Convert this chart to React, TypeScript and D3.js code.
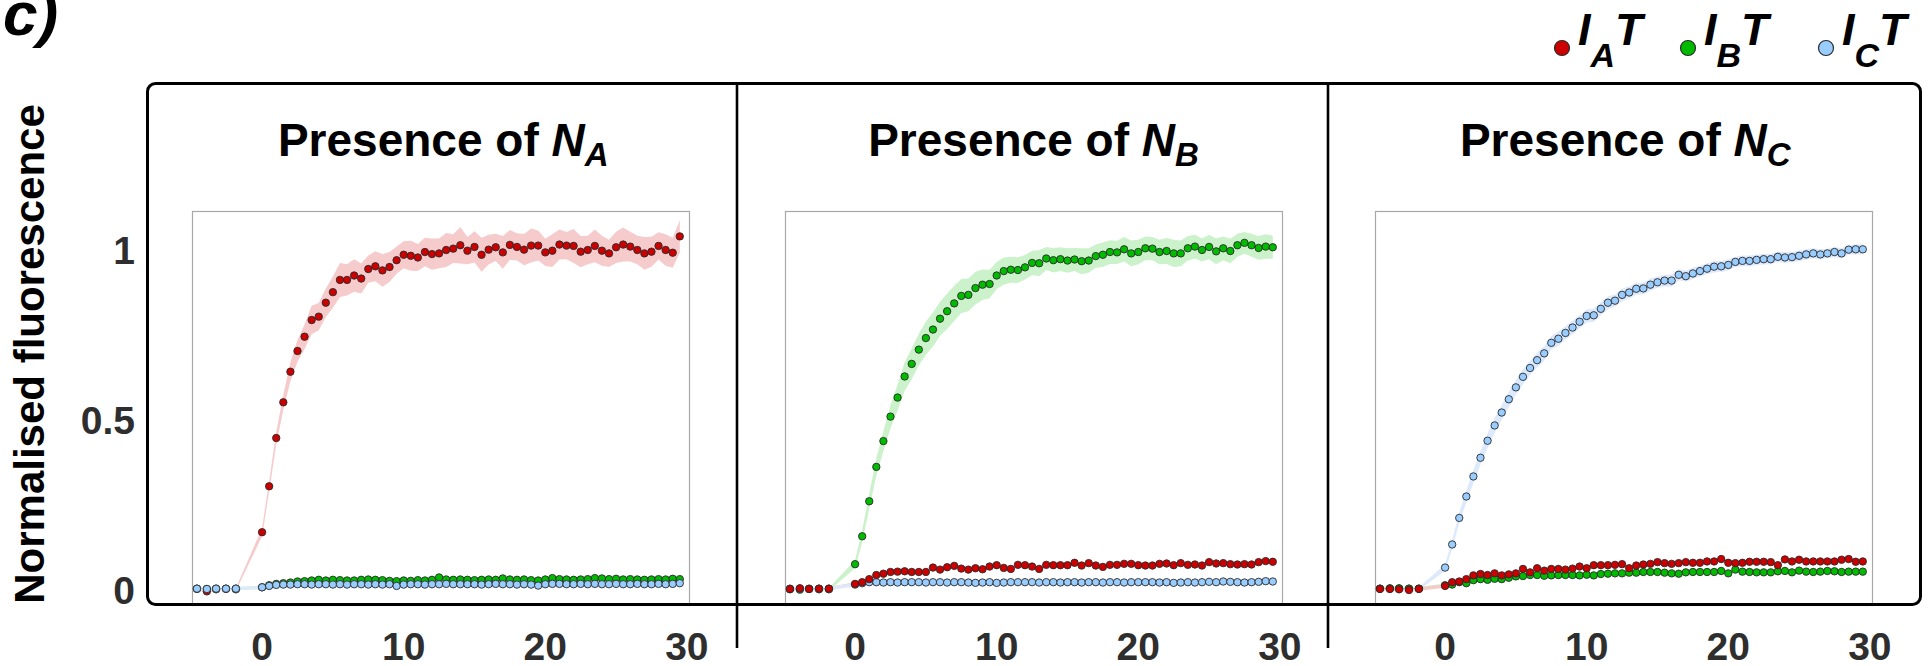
import React from "react";
import * as d3 from "d3";

// ---------- DATA ----------
const PRE_T = [-4.6, -3.9, -3.25, -2.55, -1.85];
const POST_T = d3.range(0, 30, 0.5); // sampling times 0 … 29.5
const TIMES = [...PRE_T, ...POST_T];

const X_TICKS = [0, 10, 20, 30];
const Y_TICKS = [0, 0.5, 1];
const Y_TICK_LABELS = ["0", "0.5", "1"];
const PANEL_SUBS = ["A", "B", "C"];
const LEGEND_SUBS = ["A", "B", "C"];

// Panel 1: presence of N_A
const NA_IA = [0.003, -0.004, 0.002, 0.003, 0.002,
  0.170, 0.305, 0.447, 0.552, 0.642, 0.703, 0.745, 0.794, 0.804, 0.845,
  0.876, 0.912, 0.912, 0.925, 0.916, 0.944, 0.952, 0.940, 0.950, 0.970,
  0.986, 0.983, 0.978, 0.994, 0.988, 0.990, 1.000, 1.004, 1.014, 0.998,
  1.009, 0.986, 1.001, 1.008, 0.993, 1.015, 1.009, 1.001, 1.013, 1.013,
  0.993, 0.998, 1.016, 1.013, 1.012, 0.995, 1.000, 1.012, 0.998, 0.990,
  1.008, 1.016, 1.010, 1.000, 0.990, 0.995, 1.012, 1.000, 0.992, 1.040];
const SD_NA_IA = [0.004, 0.004, 0.004, 0.004, 0.004,
  0.012, 0.015, 0.018, 0.022, 0.028, 0.032, 0.036, 0.042, 0.040, 0.042,
  0.046, 0.050, 0.046, 0.048, 0.044, 0.040, 0.044, 0.048, 0.044, 0.040,
  0.040, 0.044, 0.040, 0.042, 0.046, 0.044, 0.050, 0.042, 0.054, 0.040,
  0.046, 0.050, 0.044, 0.040, 0.048, 0.044, 0.040, 0.046, 0.050, 0.044,
  0.040, 0.048, 0.044, 0.040, 0.050, 0.046, 0.042, 0.048, 0.044, 0.040,
  0.046, 0.050, 0.044, 0.042, 0.048, 0.044, 0.040, 0.046, 0.044, 0.048];
const NA_IB = [0.004, 0.003, 0.004, 0.004, 0.004,
  0.008, 0.014, 0.018, 0.020, 0.022, 0.025, 0.026, 0.028, 0.030, 0.028,
  0.030, 0.029, 0.028, 0.028, 0.030, 0.031, 0.030, 0.029, 0.027, 0.026,
  0.028, 0.027, 0.029, 0.028, 0.030, 0.037, 0.031, 0.030, 0.031, 0.030,
  0.029, 0.030, 0.031, 0.030, 0.034, 0.031, 0.030, 0.031, 0.029, 0.028,
  0.031, 0.035, 0.032, 0.031, 0.030, 0.031, 0.032, 0.035, 0.034, 0.032,
  0.033, 0.031, 0.032, 0.031, 0.030, 0.031, 0.032, 0.031, 0.033, 0.032];
const NA_IC = [0.004, 0.003, 0.004, 0.004, 0.004,
  0.008, 0.012, 0.015, 0.016, 0.016, 0.017, 0.017, 0.016, 0.017, 0.017,
  0.016, 0.017, 0.016, 0.017, 0.017, 0.016, 0.017, 0.016, 0.017, 0.012,
  0.016, 0.017, 0.017, 0.016, 0.017, 0.017, 0.018, 0.017, 0.017, 0.017,
  0.017, 0.016, 0.017, 0.018, 0.017, 0.017, 0.016, 0.017, 0.016, 0.013,
  0.017, 0.018, 0.018, 0.017, 0.017, 0.018, 0.017, 0.018, 0.017, 0.017,
  0.018, 0.017, 0.017, 0.018, 0.017, 0.017, 0.018, 0.017, 0.018, 0.020];

// Panel 2: presence of N_B
const NB_IA = [0.003, 0.005, 0.003, 0.004, 0.004,
  0.018, 0.023, 0.032, 0.044, 0.048, 0.053, 0.054, 0.055, 0.053, 0.053,
  0.053, 0.066, 0.060, 0.067, 0.071, 0.063, 0.060, 0.064, 0.061, 0.069,
  0.073, 0.065, 0.062, 0.074, 0.073, 0.069, 0.062, 0.074, 0.073, 0.073,
  0.073, 0.080, 0.072, 0.079, 0.072, 0.068, 0.074, 0.074, 0.077, 0.077,
  0.073, 0.072, 0.072, 0.077, 0.078, 0.073, 0.079, 0.074, 0.075, 0.072,
  0.082, 0.078, 0.079, 0.076, 0.075, 0.076, 0.075, 0.082, 0.085, 0.083];
const NB_IB = [0.002, 0.001, 0.003, 0.002, 0.002,
  0.076, 0.158, 0.261, 0.362, 0.438, 0.510, 0.566, 0.628, 0.665, 0.707,
  0.741, 0.766, 0.798, 0.820, 0.843, 0.865, 0.868, 0.888, 0.898, 0.900,
  0.925, 0.938, 0.942, 0.941, 0.949, 0.962, 0.961, 0.975, 0.970, 0.973,
  0.969, 0.972, 0.967, 0.969, 0.982, 0.986, 0.994, 0.993, 1.002, 0.990,
  0.994, 1.005, 1.004, 0.994, 0.997, 0.990, 0.990, 1.005, 1.010, 1.000,
  1.009, 0.996, 1.005, 0.997, 1.014, 1.021, 1.014, 1.006, 1.010, 1.008];
const SD_NB_IB = [0.004, 0.004, 0.004, 0.004, 0.004,
  0.012, 0.018, 0.022, 0.026, 0.030, 0.034, 0.038, 0.042, 0.045, 0.047,
  0.049, 0.050, 0.050, 0.052, 0.052, 0.050, 0.048, 0.048, 0.045, 0.042,
  0.040, 0.040, 0.038, 0.038, 0.036, 0.036, 0.038, 0.034, 0.036, 0.035,
  0.036, 0.034, 0.038, 0.036, 0.034, 0.036, 0.035, 0.034, 0.036, 0.038,
  0.036, 0.035, 0.034, 0.036, 0.038, 0.040, 0.038, 0.036, 0.035, 0.034,
  0.036, 0.038, 0.035, 0.036, 0.034, 0.032, 0.034, 0.035, 0.036, 0.034];
const NB_IC = [0.004, 0.004, 0.004, 0.004, 0.004,
  0.016, 0.020, 0.023, 0.023, 0.022, 0.023, 0.022, 0.023, 0.023, 0.023,
  0.022, 0.023, 0.023, 0.022, 0.023, 0.023, 0.022, 0.021, 0.022, 0.023,
  0.021, 0.022, 0.023, 0.023, 0.023, 0.023, 0.022, 0.023, 0.023, 0.022,
  0.023, 0.023, 0.022, 0.023, 0.023, 0.022, 0.023, 0.023, 0.022, 0.023,
  0.023, 0.023, 0.023, 0.022, 0.023, 0.021, 0.022, 0.023, 0.022, 0.023,
  0.024, 0.023, 0.025, 0.024, 0.023, 0.022, 0.023, 0.024, 0.026, 0.025];

// Panel 3: presence of N_C
const NC_IA = [0.003, 0.003, 0.002, 0.000, 0.003,
  0.012, 0.023, 0.025, 0.032, 0.043, 0.047, 0.044, 0.049, 0.043, 0.046,
  0.049, 0.062, 0.052, 0.064, 0.057, 0.062, 0.062, 0.060, 0.063, 0.069,
  0.064, 0.073, 0.073, 0.073, 0.074, 0.076, 0.064, 0.072, 0.075, 0.077,
  0.082, 0.079, 0.077, 0.079, 0.082, 0.080, 0.080, 0.084, 0.084, 0.091,
  0.080, 0.079, 0.080, 0.083, 0.083, 0.083, 0.082, 0.073, 0.090, 0.084,
  0.089, 0.084, 0.084, 0.084, 0.084, 0.084, 0.089, 0.091, 0.083, 0.084];
const NC_IB = [0.004, 0.005, 0.005, 0.004, 0.004,
  0.014, 0.016, 0.023, 0.020, 0.029, 0.032, 0.030, 0.033, 0.032, 0.036,
  0.040, 0.041, 0.044, 0.044, 0.042, 0.043, 0.044, 0.044, 0.044, 0.043,
  0.045, 0.043, 0.047, 0.048, 0.049, 0.049, 0.051, 0.051, 0.053, 0.053,
  0.053, 0.051, 0.049, 0.048, 0.052, 0.053, 0.053, 0.053, 0.053, 0.056,
  0.049, 0.060, 0.054, 0.053, 0.052, 0.052, 0.052, 0.055, 0.056, 0.052,
  0.057, 0.054, 0.053, 0.054, 0.056, 0.055, 0.053, 0.054, 0.054, 0.054];
const NC_IC = [0.004, 0.004, 0.004, 0.004, 0.004,
  0.066, 0.134, 0.212, 0.275, 0.334, 0.389, 0.439, 0.484, 0.522, 0.561,
  0.596, 0.627, 0.653, 0.676, 0.696, 0.727, 0.739, 0.756, 0.772, 0.789,
  0.806, 0.808, 0.827, 0.845, 0.851, 0.868, 0.875, 0.886, 0.887, 0.898,
  0.905, 0.910, 0.910, 0.927, 0.923, 0.931, 0.938, 0.945, 0.951, 0.952,
  0.956, 0.965, 0.968, 0.968, 0.971, 0.973, 0.973, 0.980, 0.978, 0.979,
  0.983, 0.987, 0.990, 0.987, 0.990, 0.994, 0.990, 1.001, 1.002, 1.002];
const SD_NC_IC = [0.004, 0.004, 0.004, 0.004, 0.004,
  0.010, 0.013, 0.016, 0.018, 0.019, 0.020, 0.021, 0.022, 0.022, 0.022,
  0.022, 0.022, 0.021, 0.022, 0.021, 0.020, 0.021, 0.020, 0.020, 0.019,
  0.019, 0.020, 0.019, 0.019, 0.018, 0.019, 0.018, 0.018, 0.017, 0.018,
  0.017, 0.017, 0.018, 0.017, 0.016, 0.017, 0.016, 0.016, 0.017, 0.016,
  0.016, 0.015, 0.016, 0.016, 0.015, 0.016, 0.015, 0.015, 0.016, 0.015,
  0.015, 0.016, 0.015, 0.015, 0.014, 0.015, 0.015, 0.014, 0.015, 0.015];
const MINOR_SD = 0.005;

// ---------- STYLE ----------
const FONT = "'Liberation Sans', Arial, Helvetica, sans-serif";
const COLORS: Record<string, { fill: string; band: string }> = {
  A: { fill: "#cc0000", band: "#f4c8c8" },
  B: { fill: "#00bb00", band: "#c8f1c8" },
  C: { fill: "#99ccff", band: "#dce9fb" },
};

type Series = { key: string; vals: number[]; sd: number[] | number };
const PANELS: { series: Series[]; order: string[] }[] = [
  {
    series: [
      { key: "A", vals: NA_IA, sd: SD_NA_IA },
      { key: "B", vals: NA_IB, sd: MINOR_SD },
      { key: "C", vals: NA_IC, sd: MINOR_SD },
    ],
    order: ["A", "B", "C"],
  },
  {
    series: [
      { key: "B", vals: NB_IB, sd: SD_NB_IB },
      { key: "A", vals: NB_IA, sd: MINOR_SD },
      { key: "C", vals: NB_IC, sd: MINOR_SD },
    ],
    order: ["B", "C", "A"],
  },
  {
    series: [
      { key: "C", vals: NC_IC, sd: SD_NC_IC },
      { key: "B", vals: NC_IB, sd: MINOR_SD },
      { key: "A", vals: NC_IA, sd: MINOR_SD },
    ],
    order: ["C", "B", "A"],
  },
];

// ---------- LAYOUT ----------
const W = 1929, H = 666;
const BOX = { x: 147.5, y: 83.5, r: 1920.5, b: 604.5 };
const DIVIDERS = [737, 1328];
const PANEL_EDGES = [BOX.x, 737, 1328, BOX.r];
const INNER_LEFT = [192, 785, 1375];
const INNER_W = 497;
const INNER_TOP = 211, INNER_BOTTOM = 605;

const yScale = d3.scaleLinear().domain([-0.0441, 1.1147]).range([INNER_BOTTOM, INNER_TOP]);

function Panel({ idx }: { idx: number }) {
  const p = PANELS[idx];
  const left = INNER_LEFT[idx];
  const x = d3.scaleLinear().domain([-4.95, 30.15]).range([left, left + INNER_W]);
  const pts = (s: Series) =>
    TIMES.map((t, i) => ({ t, v: s.vals[i], sd: typeof s.sd === "number" ? s.sd : s.sd[i] }));
  const area = d3
    .area<{ t: number; v: number; sd: number }>()
    .x((d) => x(d.t))
    .y0((d) => yScale(d.v - d.sd))
    .y1((d) => yScale(d.v + d.sd));
  const byKey = (k: string) => p.series.find((s) => s.key === k)!;
  const cx = (PANEL_EDGES[idx] + PANEL_EDGES[idx + 1]) / 2 + 1;
  return (
    <g>
      {/* title */}
      <text x={cx} y={156} textAnchor="middle" fontFamily={FONT} fontWeight="bold" fontSize={46} fill="#000">
        Presence of{" "}
        <tspan fontStyle="italic">N</tspan>
        <tspan fontStyle="italic" fontSize={33} dy={10}>{PANEL_SUBS[idx]}</tspan>
      </text>
      {/* inner frame */}
      <rect x={left + 0.5} y={INNER_TOP + 0.5} width={INNER_W} height={INNER_BOTTOM - INNER_TOP}
        fill="none" stroke="#a8a8a8" strokeWidth={1.2} />
      {/* bands */}
      {p.series.map((s) => (
        <path key={"b" + s.key} d={area(pts(s)) || ""} fill={COLORS[s.key].band} stroke="none" opacity={0.95} />
      ))}
      {/* points */}
      {p.order.map((k) => (
        <g key={"p" + k}>
          {pts(byKey(k)).map((d, i) => (
            <circle key={i} cx={x(d.t)} cy={yScale(d.v)} r={3.7}
              fill={COLORS[k].fill} stroke="#2a2a2a" strokeWidth={0.9} />
          ))}
        </g>
      ))}
      {/* x tick labels */}
      {X_TICKS.map((t) => (
        <text key={t} x={x(t)} y={660} textAnchor="middle" fontFamily={FONT} fontWeight="bold"
          fontSize={39} fill="#2e2e2e">{t}</text>
      ))}
    </g>
  );
}

export default function App() {
  const legendX = [1562, 1688, 1826];
  return (
    <svg width={W} height={H} viewBox={`0 0 ${W} ${H}`}
      style={{ position: "absolute", left: 0, top: 0, background: "#fff" }}>
      <rect x={0} y={0} width={W} height={H} fill="#fff" />
      {/* panel letter */}
      <text x={3} y={35} fontFamily={FONT} fontWeight="bold" fontStyle="italic" fontSize={62} fill="#000">c)</text>
      {/* legend */}
      {["A", "B", "C"].map((k, i) => (
        <g key={k}>
          <circle cx={legendX[i]} cy={48} r={7.5} fill={COLORS[k].fill} stroke="#2a2a2a" strokeWidth={1.2} />
          <text x={legendX[i] + 16} y={45} fontFamily={FONT} fontWeight="bold" fontStyle="italic" fontSize={45} fill="#000">
            I<tspan fontSize={34} dy={22}>{LEGEND_SUBS[i]}</tspan><tspan dy={-22}>T</tspan>
          </text>
        </g>
      ))}
      {/* y axis label */}
      <text transform="translate(44,354) rotate(-90)" textAnchor="middle" fontFamily={FONT}
        fontWeight="bold" fontSize={42} fill="#000">Normalised fluorescence</text>
      {/* y tick labels */}
      {Y_TICKS.map((v, i) => (
        <text key={v} x={135} y={yScale(v)} dy="0.36em" textAnchor="end" fontFamily={FONT}
          fontWeight="bold" fontSize={39} fill="#2e2e2e">{Y_TICK_LABELS[i]}</text>
      ))}
      {[0, 1, 2].map((i) => <Panel key={i} idx={i} />)}
      {/* outer frame */}
      <rect x={BOX.x} y={BOX.y} width={BOX.r - BOX.x} height={BOX.b - BOX.y} rx={8} ry={8}
        fill="none" stroke="#000" strokeWidth={3} />
      {DIVIDERS.map((dx) => (
        <line key={dx} x1={dx} x2={dx} y1={BOX.y} y2={648} stroke="#000" strokeWidth={2.6} />
      ))}
    </svg>
  );
}
